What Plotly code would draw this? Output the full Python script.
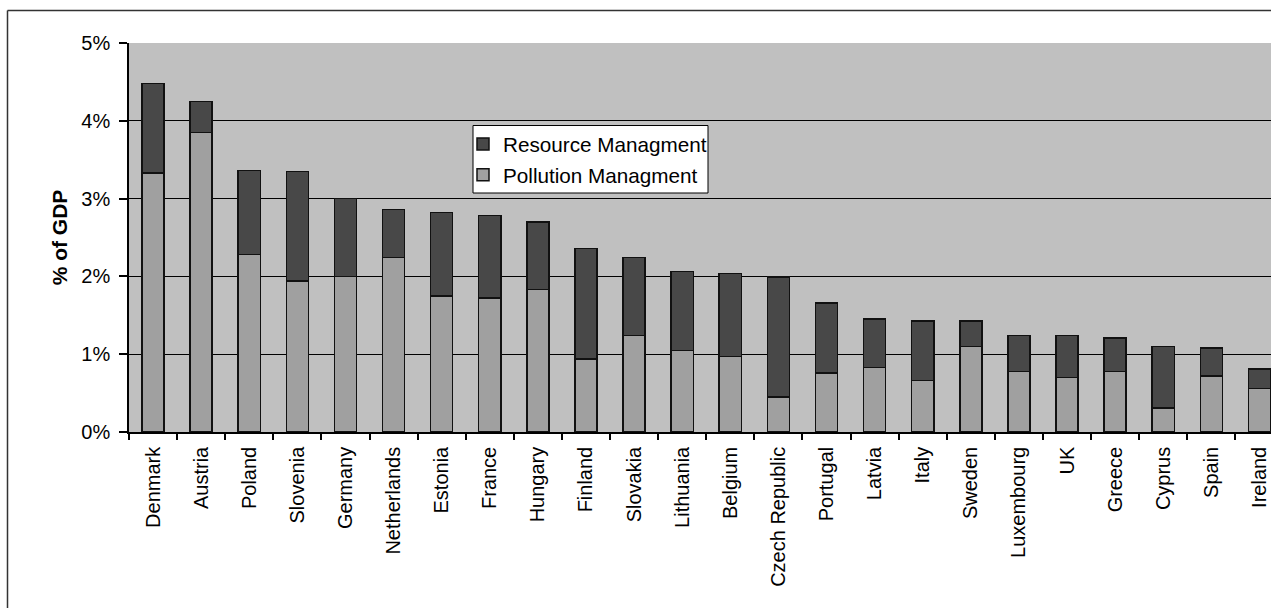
import plotly.graph_objects as go

countries = ["Denmark", "Austria", "Poland", "Slovenia", "Germany", "Netherlands",
             "Estonia", "France", "Hungary", "Finland", "Slovakia", "Lithuania",
             "Belgium", "Czech Republic", "Portugal", "Latvia", "Italy", "Sweden",
             "Luxembourg", "UK", "Greece", "Cyprus", "Spain", "Ireland"]
# totals (pollution + resource), in % of GDP
total = [4.48, 4.25, 3.36, 3.35, 3.00, 2.86, 2.82, 2.78, 2.70, 2.36, 2.24, 2.06,
         2.04, 1.99, 1.66, 1.45, 1.43, 1.43, 1.24, 1.24, 1.21, 1.10, 1.08, 0.81]
pollution = [3.33, 3.85, 2.28, 1.94, 2.00, 2.24, 1.75, 1.72, 1.83, 0.94, 1.24, 1.05,
             0.97, 0.45, 0.76, 0.83, 0.66, 1.10, 0.78, 0.70, 0.78, 0.31, 0.72, 0.56]
resource = [round(t - p, 2) for t, p in zip(total, pollution)]
ytick_vals = [0, 1, 2, 3, 4, 5]
ytick_text = ["0%", "1%", "2%", "3%", "4%", "5%"]

W, H = 1271, 608
L, R, T, B = 129, 0, 43, 176
PW, PH = W - L - R, H - T - B

def px_x(x):
    return (x - L) / PW

def px_y(y):
    return (H - B - y) / PH

FONT = "Arial, Liberation Sans, sans-serif"

fig = go.Figure()
fig.add_trace(go.Bar(x=countries, y=pollution, name="Pollution Managment",
                     legendgroup="p", legendrank=2,
                     marker=dict(color="#a0a0a0", line=dict(color="#111111", width=1.5))))
fig.add_trace(go.Bar(x=countries, y=resource, name="Resource Managment",
                     legendgroup="r", legendrank=1,
                     marker=dict(color="#484848", line=dict(color="#111111", width=1.5))))

shapes = [
    # outer figure border (left and top visible)
    dict(type="line", xref="paper", yref="paper", x0=px_x(7.5), x1=px_x(7.5),
         y0=px_y(10.5), y1=px_y(620), line=dict(color="#333333", width=1.5)),
    dict(type="line", xref="paper", yref="paper", x0=px_x(7.5), x1=px_x(1290),
         y0=px_y(10.5), y1=px_y(10.5), line=dict(color="#333333", width=1.5)),
    # legend box
    dict(type="rect", xref="paper", yref="paper", x0=px_x(473), x1=px_x(708),
         y0=px_y(125.5), y1=px_y(193), line=dict(color="#000000", width=1),
         fillcolor="white", layer="below"),
]

fig.update_layout(
    width=W, height=H,
    margin=dict(l=L, r=R, t=T, b=B, pad=0),
    paper_bgcolor="white",
    plot_bgcolor="#c0c0c0",
    barmode="stack",
    bargap=0.54,
    font=dict(family=FONT, size=20, color="#000000"),
    showlegend=True,
    legend=dict(
        x=px_x(463), y=px_y(124), xanchor="left", yanchor="top",
        bgcolor="rgba(0,0,0,0)", borderwidth=0,
        traceorder="grouped", tracegroupgap=1,
        font=dict(family=FONT, size=20.7, color="#000000"),
    ),
    shapes=shapes,
    xaxis=dict(
        type="category", range=[-0.5, 23.24],
        tickangle=-90, tickson="boundaries", ticks="outside", ticklen=6,
        tickcolor="#000000", tickwidth=1.5,
        showline=True, linecolor="#000000", linewidth=1.5,
        showgrid=False, zeroline=False, ticklabelstandoff=5,
        tickfont=dict(family=FONT, size=20, color="#000000"),
    ),
    yaxis=dict(
        range=[0, 5], tickvals=ytick_vals, ticktext=ytick_text,
        ticks="outside", ticklen=8, tickcolor="#000000", tickwidth=1.5,
        showline=True, linecolor="#000000", linewidth=1.5,
        showgrid=True, gridcolor="#000000", gridwidth=1.2,
        zeroline=False, ticklabelstandoff=5,
        tickfont=dict(family=FONT, size=20, color="#000000"),
        title=dict(text="<b>% of GDP</b>", standoff=8,
                   font=dict(family=FONT, size=21, color="#000000")),
    ),
)

fig.write_html("out.html")
